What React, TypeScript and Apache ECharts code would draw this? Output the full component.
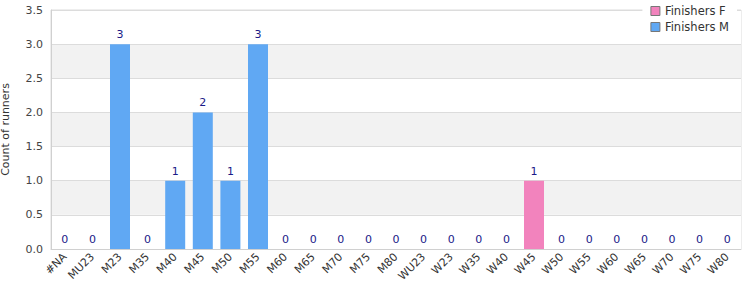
import React, { useEffect, useRef } from "react";
import * as echarts from "echarts";

const categories = ["#NA","MU23","M23","M35","M40","M45","M50","M55","M60","M65","M70","M75","M80","WU23","W23","W35","W40","W45","W50","W55","W60","W65","W70","W75","W80"];
// null where the category belongs to the other sex
const finishersF: (number | null)[] = [null,null,null,null,null,null,null,null,null,null,null,null,null,0,0,0,0,1,0,0,0,0,0,0,0];
const finishersM: (number | null)[] = [0,0,3,0,1,2,1,3,0,0,0,0,0,null,null,null,null,null,null,null,null,null,null,null,null];
const yTicks = { min: 0, max: 3.5, interval: 0.5 };

const FONT = "DejaVu Sans";

export default function App() {
  const ref = useRef<HTMLDivElement>(null);
  useEffect(() => {
    if (!ref.current) return;
    const chart = echarts.init(ref.current, undefined, { renderer: "svg" });
    const label = {
      show: true,
      position: "top" as const,
      color: "#1a1a88",
      fontFamily: FONT,
      fontSize: 11,
      distance: 4,
    };
    chart.setOption({
      animation: false,
      textStyle: { fontFamily: FONT },
      grid: {
        left: 51,
        right: 9,
        top: 10,
        bottom: 51,
        containLabel: false,
        outerBoundsMode: "none",
        show: true,
        borderColor: "#dcdcdc",
        borderWidth: 1,
        backgroundColor: "transparent",
      },
      legend: {
        orient: "vertical",
        right: 13,
        top: 2,
        itemWidth: 9,
        itemHeight: 9,
        itemGap: 4,
        padding: [3, 8, 3, 8],
        backgroundColor: "#fff",
        icon: "rect",
        textStyle: { fontFamily: FONT, fontSize: 11.5, color: "#333" },
        data: [
          { name: "Finishers F", itemStyle: { borderColor: "#777", borderWidth: 1 } },
          { name: "Finishers M", itemStyle: { borderColor: "#777", borderWidth: 1 } },
        ],
      },
      xAxis: {
        type: "category",
        data: categories,
        axisLine: { lineStyle: { color: "#d0d0d0" } },
        axisTick: { show: false },
        axisLabel: {
          rotate: 45,
          interval: 0,
          hideOverlap: false,
          color: "#333",
          fontFamily: FONT,
          fontSize: 11,
          margin: 6,
        },
      },
      yAxis: {
        type: "value",
        min: yTicks.min,
        max: yTicks.max,
        interval: yTicks.interval,
        name: "Count of runners",
        nameLocation: "middle",
        nameGap: 40,
        nameTextStyle: { color: "#333", fontFamily: FONT, fontSize: 11 },
        axisLine: { show: true, lineStyle: { color: "#d0d0d0" } },
        axisTick: { show: false },
        axisLabel: {
          color: "#444",
          fontFamily: FONT,
          fontSize: 11,
          margin: 8,
          formatter: (v: number) => v.toFixed(1),
        },
        splitLine: { show: true, lineStyle: { color: "#dcdcdc" } },
        splitArea: { show: true, areaStyle: { color: ["#ffffff", "#f2f2f2"] } },
      },
      series: [
        {
          name: "Finishers F",
          type: "bar",
          stack: "total",
          barWidth: 20,
          data: finishersF,
          itemStyle: { color: "#f283bd" },
          label,
        },
        {
          name: "Finishers M",
          type: "bar",
          stack: "total",
          barWidth: 20,
          data: finishersM,
          itemStyle: { color: "#60a8f3" },
          label,
        },
      ],
    });
    return () => chart.dispose();
  }, []);
  return <div ref={ref} style={{ width: 750, height: 300, position: "absolute", left: 0, top: 0 }} />;
}
